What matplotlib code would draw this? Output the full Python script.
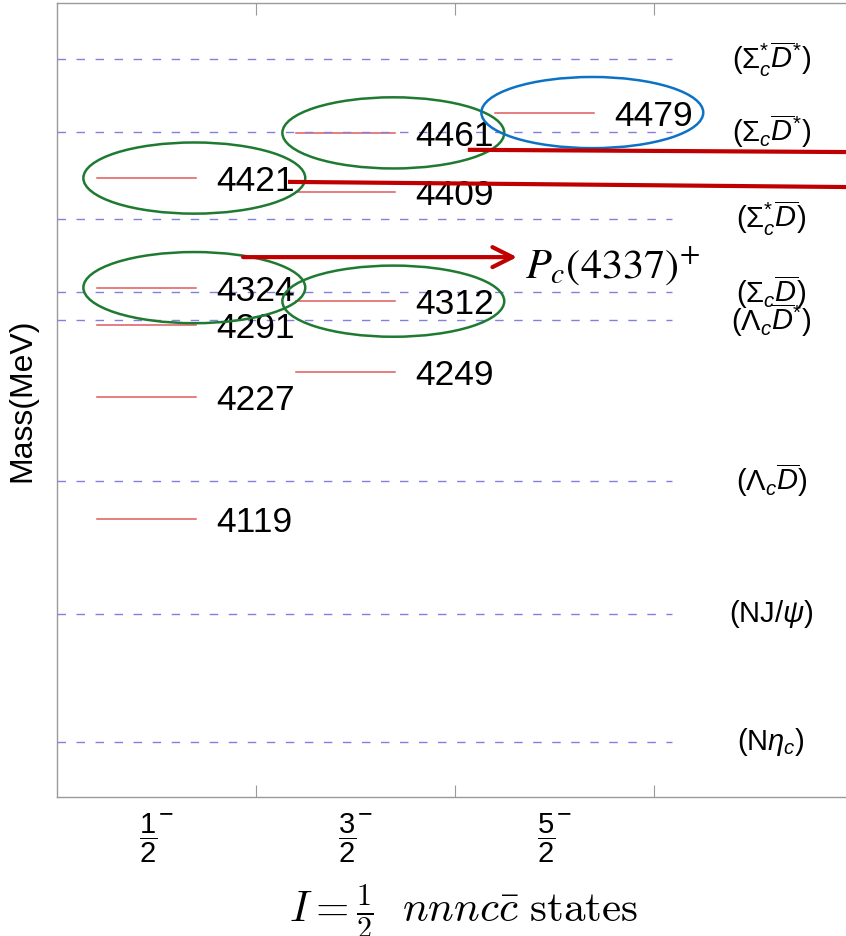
import matplotlib
matplotlib.use('Agg')
import matplotlib.pyplot as plt
from matplotlib.patches import Ellipse
from matplotlib.transforms import blended_transform_factory

plt.rcParams['font.family'] = ['Liberation Sans', 'DejaVu Sans']
plt.rcParams['mathtext.fontset'] = 'custom'
plt.rcParams['mathtext.rm'] = 'Liberation Sans'
plt.rcParams['mathtext.it'] = 'Liberation Sans:italic'
plt.rcParams['mathtext.bf'] = 'Liberation Sans:bold'
plt.rcParams['mathtext.sf'] = 'Liberation Sans'

red = '#e05a5a'
lav = '#8080e0'
grey = '#9a9a9a'
green = '#1e7a30'
blue = '#0b72c6'
dark_red = '#c00000'

# spin-parity columns (J, parity)
spin_labels = [r'$\dfrac{1}{2}$', r'$\dfrac{3}{2}$', r'$\dfrac{5}{2}$']
parity = '\u2212'
# masses (MeV) of the states in each column
masses_half = [4119, 4227, 4291, 4324, 4421]
masses_three_half = [4249, 4312, 4409, 4461]
masses_five_half = [4479]
levels = [masses_half, masses_three_half, masses_five_half]

# meson-baryon thresholds (MeV)
threshold_names = [r'$(\mathrm{N}\eta_c)$', r'$(\mathrm{NJ}/\psi)$',
                   r'$(\Lambda_c\overline{D})$', r'$(\Lambda_c\overline{D}^{*})$',
                   r'$(\Sigma_c\overline{D})$', r'$(\Sigma_c^{*}\overline{D})$',
                   r'$(\Sigma_c\overline{D}^{*})$', r'$(\Sigma_c^{*}\overline{D}^{*})$']
threshold_masses = [3922, 4035, 4153, 4295, 4320, 4385, 4462, 4526]

# highlighted states: (column, mass, colour)
circled = [(0, 4421, green), (0, 4324, green), (1, 4312, green),
           (1, 4461, green), (2, 4479, blue)]

fig = plt.figure(figsize=(8.46, 9.36), dpi=100)
ax = fig.add_axes([57 / 846, 139 / 936, 796 / 846, 794 / 936])
ax.set_xlim(0, 4)
ax.set_ylim(3873, 4576)

for g, col in enumerate(levels):
    for m in col:
        ax.plot([g + 0.2, g + 0.7], [m, m], color=red, lw=1.1, zorder=2)
        ax.text(g + 0.8, m, str(m), fontsize=25.5, va='center_baseline',
                ha='left', zorder=4)

for name, m in zip(threshold_names, threshold_masses):
    ax.plot([0, 3.09], [m, m], color=lav, lw=1.0, dashes=(6.1, 7.6), zorder=3)
    ax.text(3.59, m, name, fontsize=21, ha='center', va='center', zorder=4)

for g, m, c in circled:
    ax.add_patch(Ellipse((g + 0.69, m), 1.115, 63, fill=False, edgecolor=c,
                         lw=1.8, zorder=5))

# links to the experimental states
ax.plot([2.075, 4.0], [4446, 4444], color=dark_red, lw=3, clip_on=False, zorder=6)
ax.plot([1.171, 4.0], [4417.6, 4413], color=dark_red, lw=3, clip_on=False, zorder=6)
ax.annotate('', xy=(2.312, 4351), xytext=(0.935, 4351),
            arrowprops=dict(arrowstyle='->,head_length=0.72,head_width=0.36',
                            mutation_scale=20, color=dark_red, lw=3,
                            shrinkA=0, shrinkB=0),
            annotation_clip=False, zorder=6)
ax.text(2.352, 4333, r'$P_c(4337)^{+}$', fontsize=30.5, math_fontfamily='stix',
        ha='left', va='baseline', zorder=6)

ax.set_yticks([])
ax.set_xticks([1, 2, 3])
ax.set_xticklabels([])
ax.tick_params(axis='x', direction='in', length=8.5, width=0.8, color=grey,
               top=True, bottom=True)
for s in ax.spines.values():
    s.set_color(grey)
    s.set_linewidth(1)

trans = blended_transform_factory(ax.transData, ax.transAxes)
for g, lab in enumerate(spin_labels):
    ax.text(g + 0.457, -0.052, lab, fontsize=21, ha='center', va='center',
            transform=trans)
    ax.text(g + 0.55, -0.021, parity, fontsize=18, ha='center', va='center',
            transform=trans)

fig.text(22 / 846, 536 / 936, 'Mass(MeV)', fontsize=23, rotation=90,
         ha='center', va='center')

fig.text(463 / 846, 14 / 936, r'$I=\frac{1}{2}\ \ nnnc\bar{c}\ \mathrm{states}$',
         fontsize=31, math_fontfamily='cm', ha='center', va='baseline')

fig.savefig('out.png', dpi=100)
